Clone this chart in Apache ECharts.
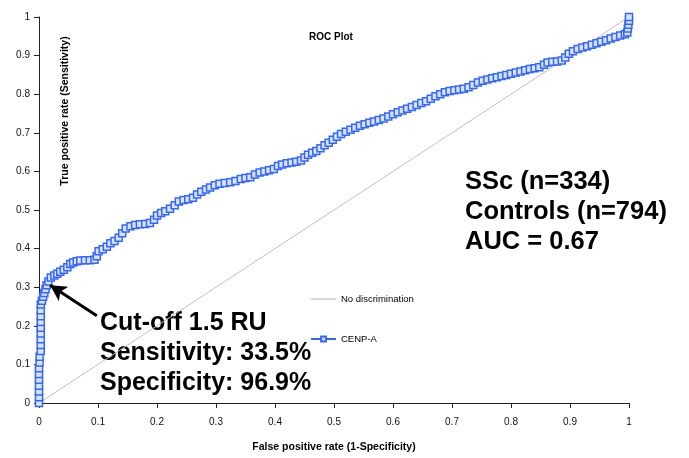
<!DOCTYPE html>
<html>
<head>
<meta charset="utf-8">
<script src="https://cdn.jsdelivr.net/npm/echarts@6/dist/echarts.min.js"></script>
<style>
html,body{margin:0;padding:0;background:#fff;}
#c{width:689px;height:458px;}
</style>
</head>
<body>
<div id="c"></div>
<script>
// ROC curve points (false positive rate, true positive rate)
const rocFpr = [0,0,0,0,0,0,0,0.001,0.001,0.003,0.003,0.003,0.003,0.003,0.003,0.003,0.003,0.003,0.005,0.007,0.009,0.011,0.013,0.016,0.02,0.026,0.031,
0.036,0.042,0.048,0.053,0.058,0.064,0.07,0.078,0.086,0.094,0.098,0.101,0.108,0.115,0.121,0.128,0.135,0.141,0.147,0.155,0.163,0.171,0.18,0.188,0.195,0.2,0.207,0.214,0.222,0.23,0.237,0.245,0.253,0.261,0.268,0.275,0.283,0.29,0.298,0.306,0.315,0.324,0.333,0.342,0.35,0.358,0.366,0.374,0.382,0.39,0.398,0.405,0.412,0.42,0.428,0.436,0.444,0.45,0.456,0.463,0.47,0.477,0.484,0.491,0.498,0.505,0.512,0.52,0.528,0.536,0.544,0.552,0.56,0.568,0.576,0.584,0.592,0.6,0.608,0.616,0.624,0.632,0.64,0.648,0.656,0.664,0.672,0.68,0.688,0.696,0.704,0.712,0.72,0.728,0.736,0.744,0.752,0.76,0.768,0.776,0.784,0.792,0.8,0.808,0.816,0.824,0.832,0.84,0.848,0.856,0.862,0.87,0.878,0.886,0.892,0.898,0.905,0.913,0.921,0.929,0.937,0.945,0.953,0.961,0.969,0.977,0.985,0.993,0.997,0.998,0.999,1,1];
const rocTpr = [0,0.015,0.03,0.045,0.06,0.075,0.09,0.105,0.12,0.135,0.15,0.165,0.18,0.195,0.21,0.225,0.24,0.255,0.265,0.275,0.285,0.295,0.305,0.315,0.325,0.33,0.335,
0.34,0.345,0.352,0.36,0.364,0.367,0.369,0.37,0.37,0.371,0.38,0.393,0.398,0.405,0.414,0.42,0.428,0.44,0.452,0.458,0.461,0.463,0.464,0.466,0.475,0.486,0.492,0.497,0.503,0.512,0.522,0.526,0.528,0.532,0.54,0.547,0.553,0.558,0.564,0.568,0.57,0.572,0.575,0.58,0.583,0.585,0.592,0.597,0.6,0.603,0.606,0.614,0.618,0.621,0.623,0.625,0.628,0.636,0.643,0.648,0.653,0.66,0.668,0.674,0.682,0.69,0.697,0.703,0.708,0.713,0.718,0.722,0.726,0.729,0.733,0.737,0.742,0.748,0.753,0.758,0.762,0.767,0.772,0.777,0.782,0.788,0.795,0.8,0.805,0.808,0.81,0.812,0.814,0.818,0.824,0.83,0.835,0.838,0.841,0.844,0.847,0.85,0.853,0.856,0.859,0.862,0.865,0.867,0.87,0.876,0.882,0.884,0.885,0.887,0.895,0.905,0.911,0.917,0.921,0.924,0.928,0.932,0.936,0.94,0.944,0.948,0.952,0.955,0.96,0.97,0.98,0.99,1];
const diagX = [0, 1];
const diagY = [0, 1];
const axisTicks = [0,0.1,0.2,0.3,0.4,0.5,0.6,0.7,0.8,0.9,1];
const seriesNames = ['No discrimination', 'CENP-A'];
const cutoff = {fpr: 0.031, tpr: 0.335};
const infoLines = ['SSc (n=334)', 'Controls (n=794)', 'AUC = 0.67'];
const cutoffLines = ['Cut-off 1.5 RU', 'Sensitivity: 33.5%', 'Specificity: 96.9%'];

const FONT = 'Arial, "Liberation Sans", sans-serif';
const chart = echarts.init(document.getElementById('c'), null, {renderer: 'canvas'});

const rocData = rocFpr.map((x, i) => [x, rocTpr[i]]);
const diagData = diagX.map((x, i) => [x, diagY[i]]);

const axisCommon = {
  type: 'value', min: 0, max: 1, interval: 0.1,
  axisLine: {show: true, lineStyle: {color: '#222', width: 1}},
  axisTick: {show: true, length: 5, lineStyle: {color: '#222'}},
  splitLine: {show: false},
  axisLabel: {color: '#111', fontSize: 10, fontFamily: FONT,
    formatter: v => String(Math.round(v * 10) / 10)}
};

const textGraphic = [];
infoLines.forEach((t, i) => {
  textGraphic.push({type: 'text', left: 465, top: 169 + i * 30,
    style: {text: t, font: 'bold 25.5px ' + FONT, fill: '#000'}});
});
cutoffLines.forEach((t, i) => {
  textGraphic.push({type: 'text', left: 100, top: 311 + i * 30,
    style: {text: t, font: 'bold 25px ' + FONT, fill: '#000'}});
});
textGraphic.push({type: 'text', x: 331, y: 37, style: {text: 'ROC Plot', font: 'bold 10px ' + FONT, fill: '#000', textAlign: 'center', textVerticalAlign: 'middle'}});
textGraphic.push({type: 'text', x: 65, y: 111, rotation: Math.PI / 2,
  style: {text: 'True positive rate (Sensitivity)', font: 'bold 10.5px ' + FONT, fill: '#000', textAlign: 'center', textVerticalAlign: 'middle'}});

chart.setOption({
  animation: false,
  backgroundColor: '#fff',
  grid: {left: 39, right: 60, top: 17, bottom: 47, containLabel: false},
  xAxis: Object.assign({}, axisCommon, {
    name: 'False positive rate (1-Specificity)', nameLocation: 'middle', nameGap: 39,
    nameTextStyle: {fontSize: 10.5, fontWeight: 'bold', fontFamily: FONT, color: '#000'},
    axisLabel: Object.assign({}, axisCommon.axisLabel, {margin: 14})
  }),
  yAxis: Object.assign({}, axisCommon, {
    axisLabel: Object.assign({}, axisCommon.axisLabel, {margin: 9})
  }),
  legend: {
    orient: 'vertical', left: 305, top: 289, itemGap: 30,
    itemWidth: 25, itemHeight: 6,
    textStyle: {fontSize: 9.5, fontFamily: FONT, color: '#000'},
    data: [{name: seriesNames[0], icon: 'path://M0,0L100,0L100,5L0,5Z'}, {name: seriesNames[1]}]
  },
  series: [
    {name: seriesNames[0], type: 'line', data: diagData, symbol: 'none',
      lineStyle: {color: '#c0c0c0', width: 1}, itemStyle: {color: '#c0c0c0'}, z: 1},
    {name: seriesNames[1], type: 'line', data: rocData, symbol: 'rect', symbolSize: 7,
      showAllSymbol: true,
      lineStyle: {color: '#3366ff', width: 4},
      itemStyle: {color: '#dbe4ff', borderColor: '#3366ff', borderWidth: 1.5},
      z: 3,
      markLine: {
        silent: true, symbol: ['none', 'arrow'], symbolSize: [13, 16],
        label: {show: false},
        lineStyle: {color: '#000', width: 3, type: 'solid'},
        data: [[{coord: [0.098, 0.226]}, {coord: [cutoff.fpr - 0.012, cutoff.tpr - 0.03]}]]
      }}
  ],
  graphic: textGraphic
});
</script>
</body>
</html>
